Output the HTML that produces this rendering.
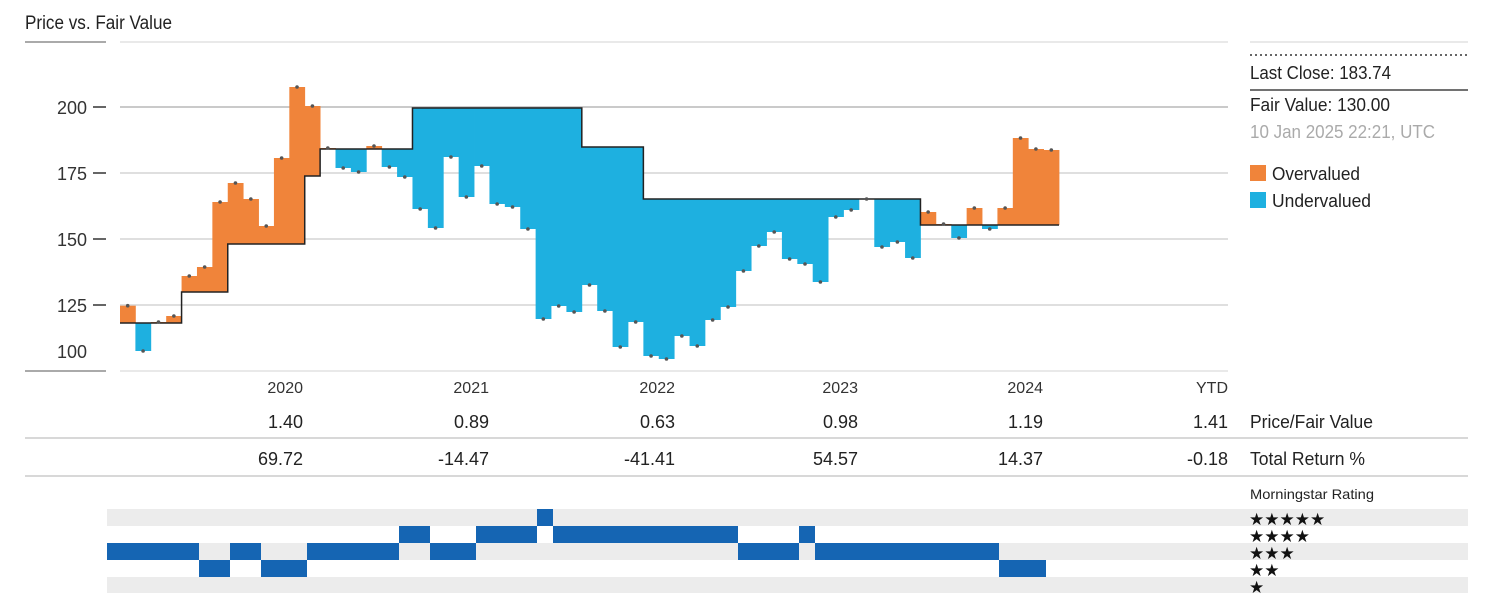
<!DOCTYPE html>
<html><head><meta charset="utf-8"><style>
html,body{margin:0;padding:0;background:#fff;}
svg{display:block;}
text{font-family:"Liberation Sans Narrow","Liberation Sans",sans-serif;}
</style></head><body>
<svg id="s" width="1490" height="610" viewBox="0 0 1490 610" xmlns="http://www.w3.org/2000/svg">
<text x="25" y="29" font-size="19" fill="#222" textLength="147" lengthAdjust="spacingAndGlyphs">Price vs. Fair Value</text>
<line x1="25" y1="42" x2="106" y2="42" stroke="#aaa" stroke-width="2"/>
<line x1="120" y1="42" x2="1228" y2="42" stroke="#e2e2e2" stroke-width="1.5"/>
<line x1="25" y1="371" x2="106" y2="371" stroke="#aaa" stroke-width="2"/>
<line x1="120" y1="371" x2="1228" y2="371" stroke="#e2e2e2" stroke-width="1.5"/>
<g stroke="#ccc" stroke-width="1.2">
<line x1="120" y1="107" x2="1228" y2="107" stroke="#aaa"/>
<line x1="120" y1="173" x2="1228" y2="173"/>
<line x1="120" y1="239" x2="1228" y2="239"/>
<line x1="120" y1="305" x2="1228" y2="305"/>
</g>
<g stroke="#333" stroke-width="1.5">
<line x1="93" y1="107" x2="106" y2="107"/><line x1="93" y1="173" x2="106" y2="173"/>
<line x1="93" y1="239" x2="106" y2="239"/><line x1="93" y1="305" x2="106" y2="305"/>
</g>
<g font-size="18" fill="#333" text-anchor="end">
<text x="87" y="114">200</text><text x="87" y="180">175</text>
<text x="87" y="246">150</text><text x="87" y="312">125</text><text x="87" y="358">100</text>
</g>
<g id="bars"></g>
<g id="fv"></g>
<g id="dots"></g>
<!-- right panel -->
<line x1="1250" y1="42" x2="1468" y2="42" stroke="#e2e2e2" stroke-width="1.5"/>
<line x1="1250" y1="55" x2="1468" y2="55" stroke="#666" stroke-width="2" stroke-dasharray="2,3"/>
<text x="1250" y="79" font-size="18" fill="#222" textLength="141" lengthAdjust="spacingAndGlyphs">Last Close: 183.74</text>
<line x1="1250" y1="90" x2="1468" y2="90" stroke="#444" stroke-width="1.5"/>
<text x="1250" y="111" font-size="18" fill="#222" textLength="140" lengthAdjust="spacingAndGlyphs">Fair Value: 130.00</text>
<text x="1250" y="138" font-size="18" fill="#aaa" textLength="185" lengthAdjust="spacingAndGlyphs">10 Jan 2025 22:21, UTC</text>
<rect x="1250" y="165" width="16" height="16" fill="#f0843a"/>
<text x="1272" y="180" font-size="18" fill="#222" textLength="88" lengthAdjust="spacingAndGlyphs">Overvalued</text>
<rect x="1250" y="192" width="16" height="16" fill="#1eb0e0"/>
<text x="1272" y="207" font-size="18" fill="#222" textLength="99" lengthAdjust="spacingAndGlyphs">Undervalued</text>
<!-- table -->
<g font-size="16" fill="#333" text-anchor="end">
<text x="303" y="393">2020</text><text x="489" y="393">2021</text><text x="675" y="393">2022</text>
<text x="858" y="393">2023</text><text x="1043" y="393">2024</text><text x="1228" y="393">YTD</text>
</g>
<g font-size="18" fill="#222" text-anchor="end">
<text x="303" y="428">1.40</text><text x="489" y="428">0.89</text><text x="675" y="428">0.63</text>
<text x="858" y="428">0.98</text><text x="1043" y="428">1.19</text><text x="1228" y="428">1.41</text>
<text x="303" y="465">69.72</text><text x="489" y="465">-14.47</text><text x="675" y="465">-41.41</text>
<text x="858" y="465">54.57</text><text x="1043" y="465">14.37</text><text x="1228" y="465">-0.18</text>
</g>
<text x="1250" y="428" font-size="18" fill="#222" textLength="123" lengthAdjust="spacingAndGlyphs">Price/Fair Value</text>
<text x="1250" y="465" font-size="18" fill="#222" textLength="115" lengthAdjust="spacingAndGlyphs">Total Return %</text>
<line x1="25" y1="438" x2="1468" y2="438" stroke="#ccc" stroke-width="1.5"/>
<line x1="25" y1="476" x2="1468" y2="476" stroke="#ccc" stroke-width="1.5"/>
<text x="1250" y="499" font-size="14" fill="#222" textLength="124" lengthAdjust="spacingAndGlyphs">Morningstar Rating</text>
<rect x="107" y="509" width="1361" height="17" fill="#ececec"/>
<rect x="107" y="543" width="1361" height="17" fill="#ececec"/>
<rect x="107" y="577" width="1361" height="16" fill="#ececec"/>
<g id="rat" fill="#1565b3"></g>
<g font-size="17" fill="#111">
<text x="1249" y="525">★★★★★</text><text x="1249" y="542">★★★★</text>
<text x="1249" y="559">★★★</text><text x="1249" y="576">★★</text><text x="1249" y="593">★</text>
</g>
</svg>
<script>
(function(){
var NS="http://www.w3.org/2000/svg";
function el(p,t,a){var e=document.createElementNS(NS,t);for(var k in a)e.setAttribute(k,a[k]);document.getElementById(p).appendChild(e);return e;}
var P=[305.7,351,322,316,276,267,202,183,199,226,158,87,106,148,168,172,146,167,177,209,228,157,197,166,204,207,229,319,306,312,285,311,347,322,356,359,336,346,320,307,271,246,232,259,264,282,217,210,199,247,242,258,212,224,238,208,229,208,138,149,150];
function fvOf(i){if(i<=3)return 323;if(i<=6)return 292;if(i<=11)return 244;if(i==12)return 176;if(i<=18)return 149;if(i<=29)return 108;if(i<=33)return 147;if(i<=51)return 199;return 225;}
var w=(1059-120)/61;
var d="";
for(var i=0;i<61;i++){
 var x=120+i*w,p=P[i],f=fvOf(i);
 var yt=Math.min(p,f),h=Math.abs(p-f);
 if(h>0.5)el("bars","rect",{x:x,y:yt,width:w+0.4,height:h,fill:p<f?"#f0843a":"#1eb0e0"});
 el("dots","circle",{cx:x+w*0.5,cy:p,r:1.8,fill:"#555"});
 d+=(i==0?"M":"L")+x+" "+f+" L"+(x+w)+" "+f+" ";
}
el("fv","path",{d:d,fill:"none",stroke:"#222","stroke-width":1.5});
var R=[[107,199,3],[199,230,2],[230,261,3],[261,307,2],[307,399,3],[399,430,4],[430,476,3],[476,537,4],[537,553,5],[553,738,4],[738,799,3],[799,815,4],[815,999,3],[999,1046,2]];
var ry={5:509,4:526,3:543,2:560,1:577};
R.forEach(function(r){el("rat","rect",{x:r[0],y:ry[r[2]],width:r[1]-r[0],height:17});});
})();
</script>
</body></html>
